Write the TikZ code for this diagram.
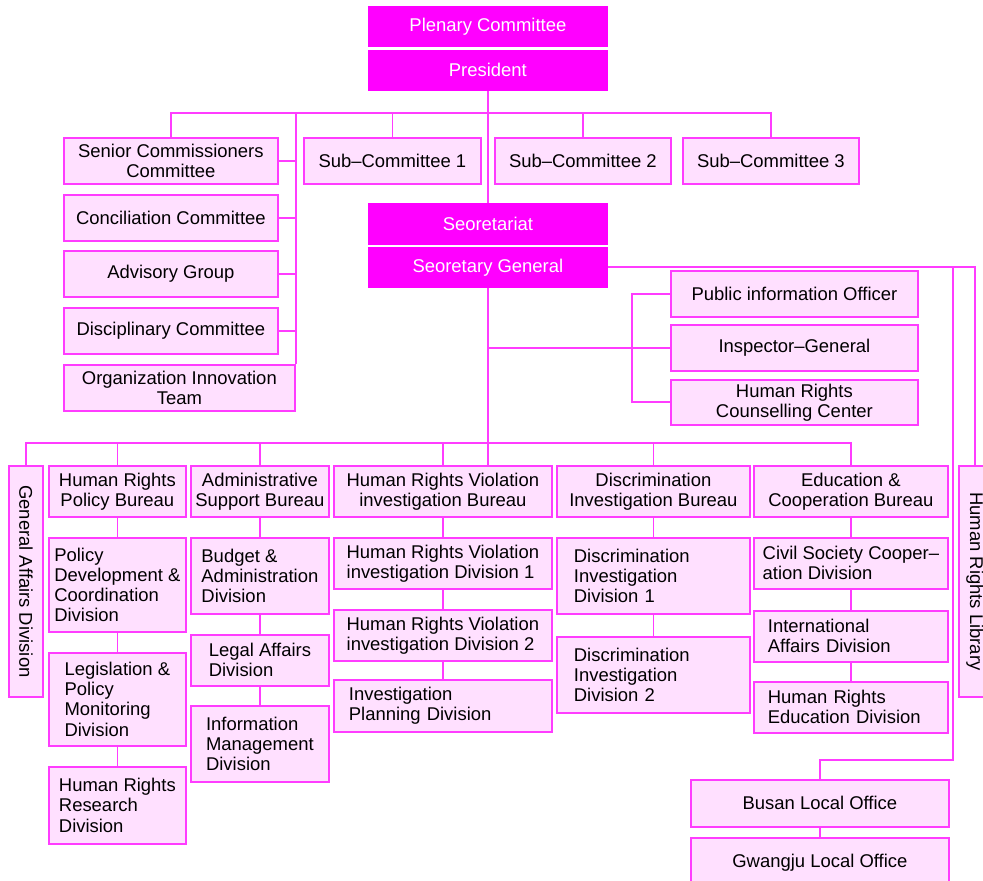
\documentclass[tikz,border=0pt]{standalone}
\usepackage{xcolor}
\usepackage{fontspec}
\setmainfont{Liberation Sans}
\usepackage{tikz}

\definecolor{orgline}{HTML}{FF3CFF}
\definecolor{orgfill}{HTML}{FFE0FF}
\definecolor{orghead}{HTML}{FF00FF}

\begin{document}
\begin{tikzpicture}[x=0.02cm, y=-0.02cm,
    every node/.style={font=\fontsize{10.5}{11.4}\selectfont},
    dims/.style 2 args={minimum width=#1*0.02cm, minimum height=#2*0.02cm},
    unit/.style={rectangle, draw=orgline, fill=orgfill, line width=1pt, inner sep=0pt, align=center, anchor=north west},
    head/.style={unit, draw=orghead, fill=orghead, text=white},
    link/.style={draw=orgline, line width=1pt}]

    \useasboundingbox (0,0) rectangle (983,881);

    % commission
    \node [head, dims={238}{39}] (plenary) at (368,6) {Plenary Committee};
    \node [head, dims={238}{39}] (pres) at (368,50) {President};
    \node [unit, dims={214}{46}] (senior) at (63,137) {Senior Commissioners\\Committee};
    \node [unit, dims={214}{46}] (concil) at (63,194) {Conciliation Committee};
    \node [unit, dims={214}{46}] (advis) at (63,250) {Advisory Group};
    \node [unit, dims={214}{46}] (discip) at (63,307) {Disciplinary Committee};
    \node [unit, dims={231}{46}] (innov) at (63,364) {Organization Innovation\\Team};
    \node [unit, dims={177}{46}] (sub1) at (303,137) {Sub–Committee 1};
    \node [unit, dims={176}{46}] (sub2) at (494,137) {Sub–Committee 2};
    \node [unit, dims={176}{46}] (sub3) at (682,137) {Sub–Committee 3};

    % secretariat
    \node [head, dims={238}{40}] (secr) at (368,203) {Seoretariat};
    \node [head, dims={238}{39}] (secgen) at (368,247) {Seoretary General};
    \node [unit, dims={247}{46}] (pio) at (670,270) {Public information Officer};
    \node [unit, dims={247}{46}] (insp) at (670,324) {Inspector–General};
    \node [unit, dims={247}{45}] (hrcc) at (670,379) {Human Rights\\Counselling Center};

    % bureaus and divisions
    \node [unit, dims={34}{231}, label={[rotate=-90]center:General Affairs Division}] (gad) at (8,465) {};
    \node [unit, dims={137}{51}] (hrpb) at (48,465) {Human Rights\\Policy Bureau};
    \node [unit, dims={137}{94}, align=left] (poldev) at (48,537) {Policy\\Development \&\\Coordination\\Division};
    \node [unit, dims={137}{93}, align=left] (legis) at (48,652) {Legislation \&\\Policy\\Monitoring\\Division};
    \node [unit, dims={137}{77}, align=left] (hrres) at (48,766) {Human Rights\\Research\\Division};

    \node [unit, dims={138}{51}] (asb) at (190,465) {Administrative\\Support Bureau};
    \node [unit, dims={138}{76}, align=left] (budget) at (190,537) {Budget \&\\Administration\\Division};
    \node [unit, dims={138}{51}, align=left] (legal) at (190,634) {Legal Affairs\\Division};
    \node [unit, dims={138}{76}, align=left] (infom) at (190,705) {Information\\Management\\Division};

    \node [unit, dims={218}{51}] (hrvb) at (333,465) {Human Rights Violation\\investigation Bureau};
    \node [unit, dims={218}{51}, align=left] (hrvd1) at (333,537) {Human Rights Violation\\investigation Division 1};
    \node [unit, dims={218}{51}, align=left] (hrvd2) at (333,609) {Human Rights Violation\\investigation Division 2};
    \node [unit, dims={218}{52}, align=left, text width=3.76cm] (invpl) at (333,679) {Investigation\\Planning Division};

    \node [unit, dims={193}{51}] (dib) at (556,465) {Discrimination\\Investigation Bureau};
    \node [unit, dims={193}{76}, align=left, text width=3.18cm] (did1) at (556,537) {Discrimination\\Investigation\\Division 1};
    \node [unit, dims={193}{76}, align=left, text width=3.18cm] (did2) at (556,636) {Discrimination\\Investigation\\Division 2};

    \node [unit, dims={194}{51}] (edub) at (753,465) {Education \&\\Cooperation Bureau};
    \node [unit, dims={194}{51}, align=left] (civil) at (753,537) {Civil Society Cooper–\\ation Division};
    \node [unit, dims={194}{51}, align=left, text width=3.32cm] (intl) at (753,610) {International\\Affairs Division};
    \node [unit, dims={194}{51}, align=left, text width=3.32cm] (hredu) at (753,681) {Human Rights\\Education Division};

    \node [unit, dims={32}{231}, label={[rotate=-90]center:Human Rights Library}] (lib) at (958,465) {};
    \node [unit, dims={258}{47}] (busan) at (690,779) {Busan Local Office};
    \node [unit, dims={258}{49}] (gwangju) at (690,837) {Gwangju Local Office};

    % lines from the president
    \coordinate (cbus) at (487,113);
    \draw [link] (pres) -- (secr);
    \draw [link] (senior.north) |- (cbus) -| (sub3.north);
    \draw [link] (sub1.north) -- (sub1.north |- cbus);
    \draw [link] (sub2.north) -- (sub2.north |- cbus);
    \draw [link] (innov.north east) -- (innov.north east |- cbus);
    \draw [link] (senior.east) -- (senior.east -| innov.north east);
    \draw [link] (concil.east) -- (concil.east -| innov.north east);
    \draw [link] (advis.east) -- (advis.east -| innov.north east);
    \draw [link] (discip.east) -- (discip.east -| innov.north east);

    % lines from the secretary general
    \coordinate (bbus) at (487,443);
    \coordinate (lturn) at (953,760);
    \draw [link] (secgen.south) -- (secgen.south |- hrvb.north);
    \draw [link] (insp.west -| secgen.south) -- (insp.west);
    \draw [link] (pio.west) -- ++(-38,0) |- (hrcc.west);
    \draw [link] (gad.north) |- (bbus) -| (edub.north);
    \draw [link] (hrpb.north) -- (hrpb.north |- bbus);
    \draw [link] (asb.north) -- (asb.north |- bbus);
    \draw [link] (hrvb.north) -- (hrvb.north |- bbus);
    \draw [link] (dib.north) -- (dib.north |- bbus);
    \draw [link] (secgen.east) -| (lib.north);
    \draw [link] (busan.north) |- (lturn) |- (secgen.east);

    % divisions
    \draw [link] (hrpb) -- (poldev) -- (legis) -- (hrres);
    \draw [link] (asb) -- (budget) -- (legal) -- (infom);
    \draw [link] (hrvb) -- (hrvd1) -- (hrvd2) -- (invpl);
    \draw [link] (dib) -- (did1) -- (did2);
    \draw [link] (edub) -- (civil) -- (intl) -- (hredu);
    \draw [link] (busan) -- (gwangju);
\end{tikzpicture}
\end{document}
